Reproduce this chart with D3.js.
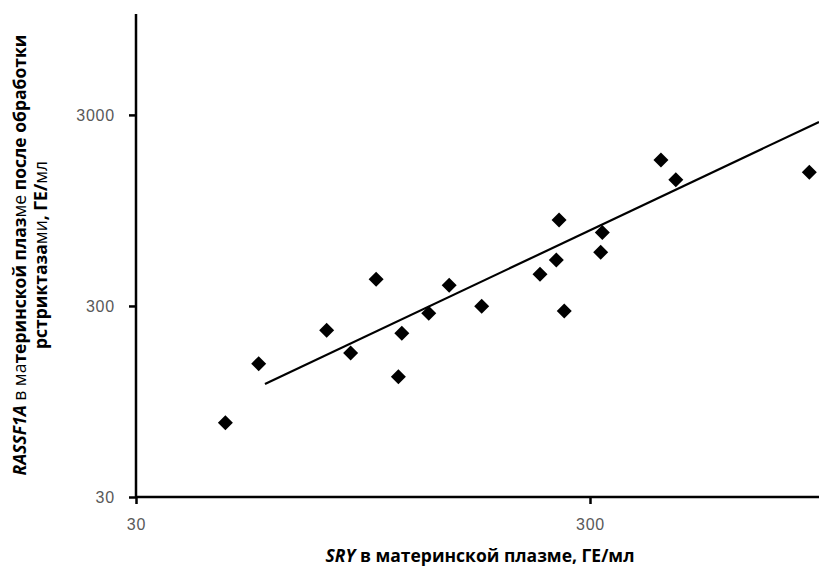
<!DOCTYPE html>
<html><head><meta charset="utf-8">
<script src="https://cdn.jsdelivr.net/npm/d3@7"></script>
<style>body{margin:0;background:#fff}svg{display:block}</style>
</head><body>
<svg id="c" width="819" height="567"></svg>
<script>
const sryValues = [47.2,55.9,78.9,89.1,101.4,113.5,115.5,132.4,146.9,173.2,232.8,252.9,256.4,263.3,319.3,316.7,429.9,463.6,912.3];
const rassfValues = [73.5,149.7,223.8,170,414,127.8,215.8,274.8,385,299,439.5,522,846,282.6,726,573,1744,1371,1503];
const trendX = [57.7, 958.6];
const trendY = [117, 2757];
const xTicks = [30, 300];
const yTicks = [30, 300, 3000];

const svg = d3.select("#c");
const x = d3.scaleLog().domain([30, 3000]).range([136, 1044]);
const y = d3.scaleLog().domain([30, 10000]).range([497, 15]);
const fmt = d => String(d);

// trend line
const line = d3.line().x(d => x(d[0])).y(d => y(d[1]));
svg.append("path").datum(trendX.map((v,i)=>[v,trendY[i]]))
  .attr("d", line).attr("fill","none").attr("stroke","#000").attr("stroke-width",2.2);

// points
const diamond = "M0,-7.5L7.5,0L0,7.5L-7.5,0Z";
svg.append("g").selectAll("path").data(sryValues.map((v,i)=>[v,rassfValues[i]])).join("path")
  .attr("d", diamond).attr("transform", d => `translate(${x(d[0])},${y(d[1])})`).attr("fill","#000");

// axes
const xAxis = svg.append("g").attr("transform","translate(0,497)")
  .call(d3.axisBottom(x).tickValues(xTicks).tickFormat(fmt).tickSize(7).tickPadding(15));
const yAxis = svg.append("g").attr("transform","translate(136,0)")
  .call(d3.axisLeft(y).tickValues(yTicks).tickFormat(fmt).tickSize(7).tickPadding(14));
[xAxis, yAxis].forEach(g => {
  g.select(".domain").attr("stroke","#000").attr("stroke-width",2.5);
  g.selectAll(".tick line").attr("stroke","#000").attr("stroke-width",2.5);
  g.selectAll(".tick text").attr("fill","#595959").style("font-family","'Liberation Sans', Arial, sans-serif")
    .style("font-size","16px").style("letter-spacing","0.8px");
});
yAxis.select(".domain").attr("d","M0,497V14");
xAxis.select(".domain").attr("d","M136,0H830");

const titleFont = "'Open Sans', sans-serif";
const titleSize = "17.5px";

// x title
const xt = svg.append("text").attr("x",480).attr("y",562).attr("text-anchor","middle")
  .style("font-family",titleFont).style("font-size",titleSize).style("font-weight","bold").attr("fill","#000");
xt.append("tspan").style("font-style","italic").text("SRY");
xt.append("tspan").text(" в материнской  плазме, ГЕ/мл");

// y title
const yt = svg.append("g").attr("transform","translate(0,255) rotate(-90)");
const l1 = yt.append("text").attr("x",0).attr("y",26).attr("text-anchor","middle")
  .style("font-family",titleFont).style("font-size",titleSize).style("font-weight","bold").attr("fill","#000");
l1.append("tspan").style("font-style","italic").text("RASSF1A");
l1.append("tspan").text("  в ").style("font-weight","normal");
l1.append("tspan").text("ма").style("font-weight","normal");
l1.append("tspan").text("теринской плаз");
l1.append("tspan").text("ме").style("font-weight","normal");
l1.append("tspan").text(" после обработки");
const l2 = yt.append("text").attr("x",0).attr("y",47).attr("text-anchor","middle")
  .style("font-family",titleFont).style("font-size",titleSize).style("font-weight","bold").attr("fill","#000");
l2.append("tspan").text("рстриктаза");
l2.append("tspan").text("ми").style("font-weight","normal");
l2.append("tspan").text(",   ГЕ/");
l2.append("tspan").text("мл").style("font-weight","normal");
</script>
</body></html>
